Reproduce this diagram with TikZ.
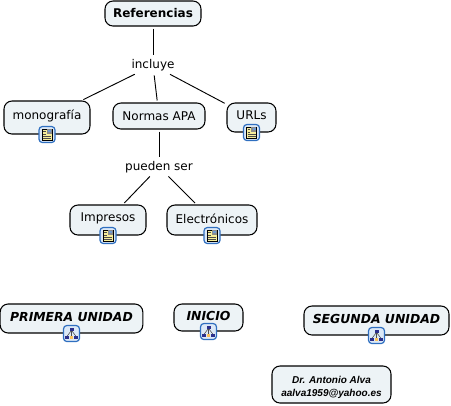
\documentclass[tikz,border=0pt]{standalone}
\usepackage{fontspec}
\setmainfont{DejaVu Sans}
\newfontfamily\alvafont{Liberation Sans}
\usetikzlibrary{positioning}
\definecolor{conceptfill}{HTML}{EDF3F6}
\definecolor{iconblue}{HTML}{2F6FC0}
\definecolor{iconfill}{HTML}{DCE9F7}
\definecolor{pagefill}{HTML}{F7EE9A}
\definecolor{mapnavy}{HTML}{2B2F8C}
\tikzset{
  concept/.style={draw,rounded corners=6pt,fill=conceptfill,line width=0.8pt,inner sep=0pt,font=\fontsize{9}{11}\selectfont},
  linkword/.style={inner sep=1.5pt,font=\fontsize{9}{11}\selectfont},
  unidad/.style={concept,font=\fontsize{9.3}{11}\selectfont\bfseries\itshape},
  conn/.style={line width=0.7pt,shorten <=1.5pt,shorten >=1.5pt},
  iconbox/.style={draw=iconblue,rounded corners=2.5pt,fill=iconfill,line width=0.9pt,minimum size=12pt,inner sep=0pt},
  pics/docicon/.style={code={
    \fill[pagefill] (-3.8pt,-4.2pt) rectangle (3.8pt,4.2pt);
    \draw[black,line width=0.45pt] (-3.8pt,-4.2pt) rectangle (3.8pt,4.2pt);
    \fill[black!45] (-0.3pt,0.4pt) rectangle (3.6pt,4pt);
    \fill[iconblue!70] (0.8pt,2pt) rectangle (3.2pt,3.6pt);
    \foreach \ypos in {-3,-1.5}
      \draw[black!70,line width=0.35pt] (-3pt,\ypos pt) -- (3pt,\ypos pt);
    \draw[black!70,line width=0.35pt] (-3pt,0.4pt) -- (-1pt,0.4pt);
    \draw[black!70,line width=0.35pt] (-3pt,2.2pt) -- (-1pt,2.2pt);
  }},
  pics/mapicon/.style={code={
    \draw[black!70,line width=0.4pt] (0pt,2.4pt) -- (-3.3pt,-2pt) (0pt,2.4pt) -- (3.3pt,-2pt) (0pt,2.4pt) -- (0pt,-3pt);
    \fill[mapnavy] (-1.5pt,1.6pt) rectangle (1.5pt,4.4pt);
    \fill[mapnavy] (-4.6pt,-4.2pt) rectangle (-2.2pt,-1.6pt);
    \fill[mapnavy] (2.2pt,-4.2pt) rectangle (4.6pt,-1.6pt);
    \fill[pagefill!60!orange] (-1.1pt,-4.2pt) rectangle (1.1pt,-2pt);
  }},
}
\begin{document}
\begin{tikzpicture}[x=0.75pt,y=-0.75pt]
  \useasboundingbox (0,0) rectangle (451,405);
  % upper map
  \node[concept,minimum width=72pt,minimum height=18.75pt,font=\fontsize{9}{11}\selectfont\bfseries] (ref) at (153,13.5) {Referencias};
  \node[linkword,below=23pt of ref] (incl) {incluye};
  \node[concept,minimum width=64.5pt,minimum height=24.75pt,text depth=4pt] (mono) at (47,117.5) {monografía};
  \node[concept,minimum width=69pt,minimum height=19.5pt] (apa) at (159,116) {Normas APA};
  \node[concept,minimum width=36.75pt,minimum height=21.75pt,text depth=3pt] (url) at (251.5,117.5) {URLs};
  \node[linkword,below=22pt of apa] (pued) {pueden ser};
  \node[concept,minimum width=57pt,minimum height=22.5pt,text depth=5pt] (imp) at (108,220) {Impresos};
  \node[concept,minimum width=67.5pt,minimum height=22.5pt,text depth=2.5pt] (elec) at (212,220) {Electrónicos};
  % lower row
  \node[unidad,minimum width=107pt,minimum height=21.75pt,text depth=3pt] (prim) at (71.5,318.5) {PRIMERA UNIDAD};
  \node[unidad,minimum width=51.75pt,minimum height=20.25pt,text depth=2pt] (ini) at (208.5,317.5) {INICIO};
  \node[unidad,minimum width=108.75pt,minimum height=21.75pt,text depth=3pt] (seg) at (376.5,320.5) {SEGUNDA UNIDAD};
  \node[concept,minimum width=89.25pt,minimum height=27.75pt,align=center,text height=19.5pt,font=\alvafont\fontsize{7.5}{10}\selectfont\bfseries\itshape] (alva) at (331.5,384.5) {Dr. Antonio Alva\\aalva1959@yahoo.es};
  % connectors
  \draw[conn] (ref)--(incl);
  \draw[conn] (incl)--(mono);
  \draw[conn] (incl)--(apa);
  \draw[conn] (incl)--(url);
  \draw[conn] (apa)--(pued);
  \draw[conn] (pued)--(imp);
  \draw[conn] (pued)--(elec);
  % icons
  \node[iconbox,anchor=center] (icmono) at (mono.south) {};
  \node[iconbox,anchor=center] (icurl) at (url.south) {};
  \node[iconbox,anchor=center] (icimp) at (imp.south) {};
  \node[iconbox,anchor=center] (icelec) at (elec.south) {};
  \node[iconbox,anchor=center] (icprim) at (prim.south) {};
  \node[iconbox,anchor=center] (icini) at (ini.south) {};
  \node[iconbox,anchor=center] (icseg) at (seg.south) {};
  \foreach \ic in {icmono,icurl,icimp,icelec}
    \pic at (\ic) {docicon};
  \foreach \ic in {icprim,icini,icseg}
    \pic at (\ic) {mapicon};
\end{tikzpicture}
\end{document}
